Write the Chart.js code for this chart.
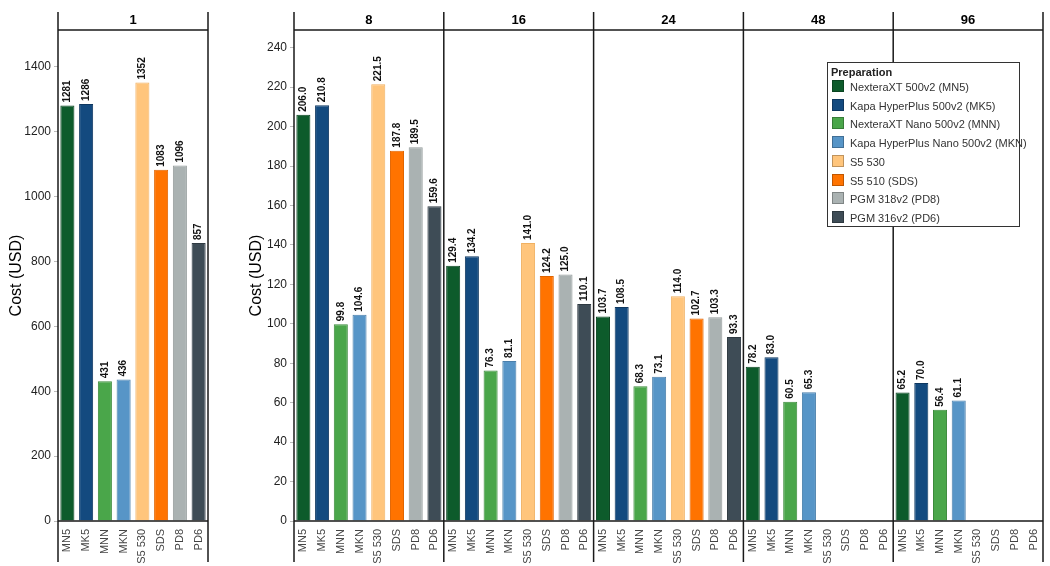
<!DOCTYPE html>
<html><head><meta charset="utf-8">
<script src="https://cdn.jsdelivr.net/npm/chart.js@4"></script>
<style>
body{margin:0;background:#fff;width:1050px;height:566px;overflow:hidden;position:relative;font-family:"Liberation Sans",Arial,sans-serif}
#c1{position:absolute;left:0;top:0}
#c2{position:absolute;left:230px;top:0}
#legend{position:absolute;left:827px;top:62px;width:191px;height:163px;border:1px solid #333;background:#fff;box-sizing:content-box}
#legend .t{font-weight:bold;font-size:11px;color:#222;position:absolute;left:3px;top:3px}
#legend .r{position:absolute;left:4px;height:14px;font-size:11px;color:#333;line-height:14px;white-space:nowrap}
#legend .s{display:inline-block;width:12px;height:12px;vertical-align:top;margin-right:6px;box-sizing:border-box;border:1px solid rgba(0,0,0,0.25)}
</style></head><body>
<canvas id="c1" width="222" height="566"></canvas>
<canvas id="c2" width="820" height="566"></canvas>
<div id="legend"></div>
<script>
const prepCodes = ['MN5','MK5','MNN','MKN','S5 530','SDS','PD8','PD6'];
const prepNames = ['NexteraXT 500v2 (MN5)','Kapa HyperPlus 500v2 (MK5)','NexteraXT Nano 500v2 (MNN)','Kapa HyperPlus Nano 500v2 (MKN)','S5 530','S5 510 (SDS)','PGM 318v2 (PD8)','PGM 316v2 (PD6)'];
const prepColors = ['#0d5b2b','#134a7f','#4aa64a','#5795c7','#ffc57c','#ff7300','#aab2b2','#3e4c56'];
const prepBorders = ['#0a4420','#0e3760','#3b8a3b','#4a7fab','#f0b060','#e06400','#939b9b','#2f3a42'];

const facet1Label = '1';
const facet1Values = [1281,1286,431,436,1352,1083,1096,857];

const facets = ['8','16','24','48','96'];
const values8  = [206.0,210.8,99.8,104.6,221.5,187.8,189.5,159.6];
const values16 = [129.4,134.2,76.3,81.1,141.0,124.2,125.0,110.1];
const values24 = [103.7,108.5,68.3,73.1,114.0,102.7,103.3,93.3];
const values48 = [78.2,83.0,60.5,65.3,null,null,null,null];
const values96 = [65.2,70.0,56.4,61.1,null,null,null,null];
const facetValues = [values8,values16,values24,values48,values96];

const leftTicks = {min:0, max:1514, step:200};
const rightTicks = {min:0, max:249, step:20};

const FONT = '"Liberation Sans", Arial, sans-serif';
Chart.defaults.font.family = FONT;

const framePlugin = {
  id:'frame',
  afterDraw(chart, args, opts){
    const {ctx, chartArea:{left,right,top,bottom}} = chart;
    const xs = chart.scales.x;
    const n = opts.facets.length, per = opts.per;
    const bounds = [left];
    for(let j=1;j<n;j++){
      bounds.push((xs.getPixelForValue(j*per-1)+xs.getPixelForValue(j*per))/2);
    }
    bounds.push(right);
    ctx.save();
    // value labels
    ctx.fillStyle='#111';
    ctx.font='bold 10px '+FONT;
    chart.data.datasets.forEach((ds,di)=>{
      const meta = chart.getDatasetMeta(di);
      meta.data.forEach((el,i)=>{
        const v = ds.data[i];
        if(v===null||v===undefined) return;
        ctx.save();
        ctx.translate(el.x, el.y-3);
        ctx.rotate(-Math.PI/2);
        ctx.textAlign='left'; ctx.textBaseline='middle';
        ctx.fillText(opts.fmt(v),0,0);
        ctx.restore();
      });
    });
    ctx.strokeStyle='#1a1a1a'; ctx.lineWidth=1.5;
    ctx.beginPath();
    ctx.moveTo(left,top); ctx.lineTo(right,top);
    ctx.moveTo(left,bottom); ctx.lineTo(right,bottom);
    bounds.forEach(x=>{ctx.moveTo(x,12); ctx.lineTo(x,562);});
    ctx.stroke();
    ctx.fillStyle='#000';
    ctx.font='bold 13px '+FONT;
    ctx.textAlign='center'; ctx.textBaseline='middle';
    for(let j=0;j<n;j++) ctx.fillText(opts.facets[j], (bounds[j]+bounds[j+1])/2, 20);
    ctx.restore();
  }
};

function yScale(t, w){
  return {
    min:t.min, max:t.max,
    ticks:{stepSize:t.step, includeBounds:false, color:'#222', font:{size:12}, padding:3, callback:v=>String(v)},
    grid:{drawOnChartArea:false, tickLength:4, color:'#bbb'},
    border:{display:false},
    title:{display:true, text:'Cost (USD)', font:{size:16}, color:'#000', padding:{top:5,bottom:4}},
    afterFit:s=>{s.width=w;}
  };
}
function xScale(){
  return {
    type:'category', offset:true,
    grid:{display:false}, border:{display:false},
    ticks:{minRotation:90, maxRotation:90, autoSkip:false, color:'#444', font:{size:11}, padding:0},
    afterFit:s=>{s.height=45;}
  };
}

// Left chart
new Chart(document.getElementById('c1'), {
  type:'bar',
  data:{
    labels: prepCodes,
    datasets: prepCodes.map((c,i)=>({
      label: prepNames[i],
      data: facet1Values.map((v,k)=>k===i?v:null),
      backgroundColor: prepColors[i], borderColor: prepBorders[i], borderWidth:1,
      skipNull:true, categoryPercentage:1, barPercentage:0.75
    }))
  },
  options:{
    responsive:false, animation:false,
    layout:{padding:{left:2,right:14,top:30,bottom:0}},
    plugins:{legend:{display:false}, tooltip:{enabled:false},
      frame:{facets:[facet1Label], per:8, fmt:v=>String(Math.round(v))}},
    scales:{x:xScale(), y:yScale(leftTicks,56)}
  },
  plugins:[framePlugin]
});

// Right chart
const rightLabels = [];
facets.forEach(()=>prepCodes.forEach(c=>rightLabels.push(c)));
new Chart(document.getElementById('c2'), {
  type:'bar',
  data:{
    labels: rightLabels,
    datasets: prepCodes.map((c,i)=>{
      const d=[];
      facetValues.forEach(vals=>vals.forEach((v,k)=>d.push(k===i?v:null)));
      return {label: prepNames[i], data:d,
        backgroundColor: prepColors[i], borderColor: prepBorders[i], borderWidth:1,
        skipNull:true, categoryPercentage:1, barPercentage:0.75};
    })
  },
  options:{
    responsive:false, animation:false,
    layout:{padding:{left:12,right:7,top:30,bottom:0}},
    plugins:{legend:{display:false}, tooltip:{enabled:false},
      frame:{facets:facets, per:8, fmt:v=>v.toFixed(1)}},
    scales:{x:xScale(), y:yScale(rightTicks,52)}
  },
  plugins:[framePlugin]
});

// Legend
const lg = document.getElementById('legend');
const t = document.createElement('div'); t.className='t'; t.textContent='Preparation'; lg.appendChild(t);
prepNames.forEach((n,i)=>{
  const r=document.createElement('div'); r.className='r'; r.style.top=(17+i*18.7)+'px';
  const s=document.createElement('span'); s.className='s'; s.style.background=prepColors[i];
  r.appendChild(s); r.appendChild(document.createTextNode(n)); lg.appendChild(r);
});
</script>
</body></html>
